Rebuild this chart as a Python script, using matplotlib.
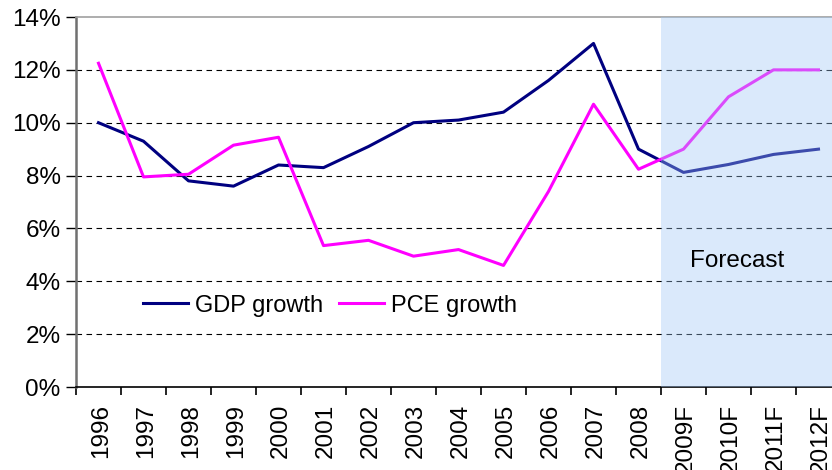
import matplotlib
matplotlib.use("Agg")
import matplotlib.pyplot as plt
from matplotlib.ticker import FuncFormatter, FixedLocator

plt.rcParams['font.family'] = ['Liberation Sans', 'DejaVu Sans']

years = ["1996", "1997", "1998", "1999", "2000", "2001", "2002", "2003", "2004",
         "2005", "2006", "2007", "2008", "2009F", "2010F", "2011F", "2012F"]
gdp_growth = [10.0, 9.3, 7.8, 7.6, 8.4, 8.3, 9.1, 10.0, 10.1, 10.4, 11.6, 13.0,
              9.0, 8.12, 8.42, 8.8, 9.0]
pce_growth = [12.25, 7.95, 8.05, 9.15, 9.45, 5.35, 5.55, 4.95, 5.2, 4.6, 7.4, 10.7,
              8.24, 9.0, 10.98, 12.0, 12.0]
forecast_start = "2009F"

fig = plt.figure(figsize=(8.32, 4.70), dpi=100)
ax = fig.add_axes([76/832, (470-387)/470, 765/832, 370/470])

x = list(range(len(years)))
ax.plot(x, gdp_growth, color='#000080', lw=2.2, label='GDP growth', zorder=3)
ax.plot(x, pce_growth, color='#FF00FF', lw=2.2, label='PCE growth', zorder=3)

fs = years.index(forecast_start)
ax.axvspan(fs - 0.5, len(years) - 0.5, facecolor=(0.62, 0.78, 0.96), alpha=0.38,
           edgecolor='none', zorder=4)
ax.text(fs + 1.2, 4.75, "Forecast", fontsize=17.5, ha='center', va='center', zorder=5)

ax.set_xlim(-0.5, len(years) - 0.5)
ax.set_ylim(0, 14)
ax.set_yticks(range(0, 15, 2))
ax.yaxis.set_major_formatter(FuncFormatter(lambda v, p: f"{int(v)}%"))
for yv in range(2, 13, 2):
    ax.axhline(yv, color='black', lw=0.8, ls=(0, (5, 4)), zorder=2)

ax.set_xticks([i + 0.05 for i in x])
ax.set_xticklabels(years, rotation=90, fontsize=17.5)
ax.xaxis.set_minor_locator(FixedLocator([i - 0.5 for i in range(len(years) + 1)]))
ax.tick_params(axis='x', which='major', length=0, pad=12)
ax.tick_params(axis='x', which='minor', length=6, width=1.2, color='black')
ax.tick_params(axis='y', length=7, width=1.0, labelsize=17.5, pad=4)

ax.spines['left'].set_color('#707070')
ax.spines['left'].set_linewidth(1.8)
ax.spines['top'].set_color('#a0a0a0')
ax.spines['top'].set_linewidth(1.2)
ax.spines['right'].set_visible(False)
ax.spines['bottom'].set_color('black')
ax.spines['bottom'].set_linewidth(1.2)

leg = ax.legend(loc='center left', bbox_to_anchor=(0.075, 0.22), ncol=2, frameon=False,
                fontsize=17, handlelength=1.9, handletextpad=0.3, columnspacing=0.7,
                borderaxespad=0)

fig.savefig("out.png", dpi=100)
